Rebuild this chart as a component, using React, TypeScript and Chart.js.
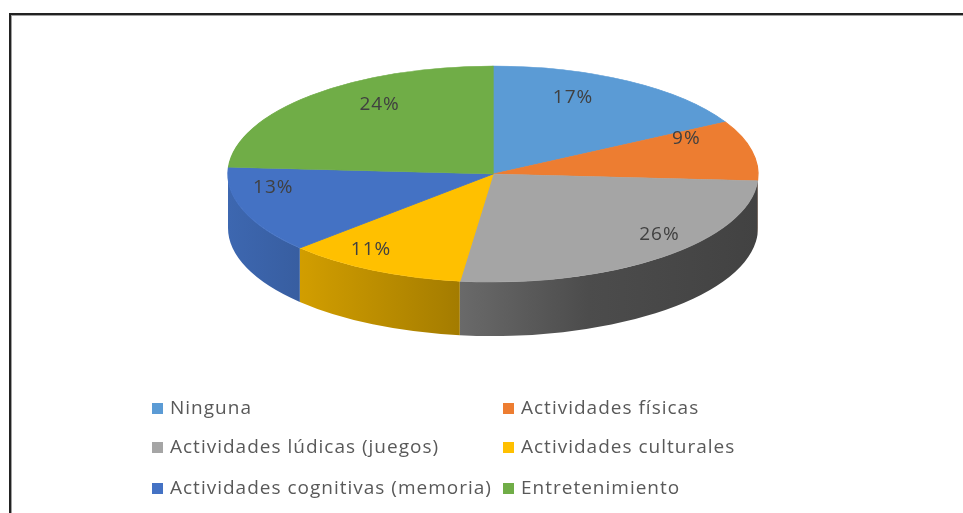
import React, { useEffect, useRef } from "react";
import { Chart, registerables } from "chart.js";
Chart.register(...registerables);

const categories = [
  "Ninguna",
  "Actividades físicas",
  "Actividades lúdicas (juegos)",
  "Actividades culturales",
  "Actividades cognitivas (memoria)",
  "Entretenimiento",
];
const values = [17, 9, 26, 11, 13, 24];
const colors = ["#5B9BD5", "#ED7D31", "#A5A5A5", "#FFC000", "#4472C4", "#70AD47"];

// geometry of the tilted pie (style constants)
const CX = 493;
const CY = 174;
const RX = 265;
const RY = 108;
const DEPTH = 54;

function shade(hex: string, f: number) {
  const n = parseInt(hex.slice(1), 16);
  const r = Math.round(((n >> 16) & 255) * f);
  const g = Math.round(((n >> 8) & 255) * f);
  const b = Math.round((n & 255) * f);
  return `rgb(${r},${g},${b})`;
}

const pie3d = {
  id: "pie3d",
  beforeDraw(chart: any) {
    const ctx = chart.ctx;
    ctx.save();
    ctx.fillStyle = "#ffffff";
    ctx.fillRect(0, 0, chart.width, chart.height);
    // frame
    ctx.fillStyle = "#222222";
    ctx.fillRect(9, 13, chart.width, 2);
    ctx.fillRect(9, 13, 2, chart.height);
    ctx.fillStyle = "#a0a0a0";
    ctx.fillRect(11, 15, chart.width, 1);
    ctx.fillRect(11, 15, 1, chart.height);
    ctx.restore();
  },
  beforeDatasetsDraw(chart: any) {
    const ctx = chart.ctx;
    const meta = chart.getDatasetMeta(0);
    const a0 = meta.data[0] as any;
    const px = a0.x, py = a0.y, R = a0.outerRadius;
    ctx.save();
    // side walls
    meta.data.forEach((arc: any, i: number) => {
      const s = Math.max(arc.startAngle, 0);
      const e = Math.min(arc.endAngle, Math.PI);
      if (e <= s) return;
      const grad = ctx.createLinearGradient(CX - RX, 0, CX + RX, 0);
      const c = colors[i];
      grad.addColorStop(0, shade(c, 0.9));
      grad.addColorStop(0.41, shade(c, 0.66));
      grad.addColorStop(0.68, shade(c, 0.46));
      grad.addColorStop(1, shade(c, 0.4));
      ctx.beginPath();
      ctx.ellipse(CX, CY, RX, RY, 0, s, e, false);
      ctx.ellipse(CX, CY + DEPTH, RX, RY, 0, e, s, true);
      ctx.closePath();
      ctx.fillStyle = grad;
      ctx.fill();
    });
    // top face transform
    ctx.translate(CX, CY);
    ctx.scale(RX / R, RY / R);
    ctx.translate(-px, -py);
  },
  afterDatasetsDraw(chart: any) {
    const ctx = chart.ctx;
    ctx.restore();
    const meta = chart.getDatasetMeta(0);
    const total = values.reduce((a, b) => a + b, 0);
    ctx.save();
    ctx.font = "19px 'Open Sans'";
    (ctx as any).letterSpacing = "1px";
    ctx.fillStyle = "#404040";
    ctx.textAlign = "center";
    ctx.textBaseline = "middle";
    meta.data.forEach((arc: any, i: number) => {
      const mid = (arc.startAngle + arc.endAngle) / 2;
      const c = Math.cos(mid), s = Math.sin(mid);
      const x = CX + RX * 0.8 * c * (1 + 0.3 * s);
      const y = CY - 18 + RY * 0.8 * s + 21 * s * s;
      ctx.fillText(Math.round((values[i] / total) * 100) + "%", x, y);
    });
    ctx.restore();
  },
  afterDraw(chart: any) {
    const ctx = chart.ctx;
    ctx.save();
    ctx.font = "19px 'Open Sans'";
    (ctx as any).letterSpacing = "1px";
    ctx.textBaseline = "middle";
    ctx.textAlign = "left";
    const colX = [152, 503];
    const rowY = [409, 448, 489];
    categories.forEach((name, i) => {
      const x = colX[i % 2];
      const y = rowY[Math.floor(i / 2)];
      ctx.fillStyle = colors[i];
      ctx.fillRect(x, y - 6, 11, 11);
      ctx.fillStyle = "#595959";
      ctx.fillText(name, x + 18, y);
    });
    ctx.restore();
  },
};

export default function App() {
  const ref = useRef<HTMLCanvasElement>(null);
  useEffect(() => {
    if (!ref.current) return;
    const chart = new Chart(ref.current, {
      type: "pie",
      data: {
        labels: categories,
        datasets: [
          {
            data: values,
            backgroundColor: colors,
            borderColor: colors,
            borderWidth: 1,
            clip: false as any,
          },
        ],
      },
      options: {
        responsive: false,
        devicePixelRatio: 1,
        animation: false,
        layout: { padding: { left: 280, right: 283, top: 56, bottom: 57 } },
        plugins: {
          legend: { display: false },
          tooltip: { enabled: false },
        },
      },
      plugins: [pie3d],
    });
    return () => chart.destroy();
  }, []);
  return (
    <div style={{ position: "absolute", left: 0, top: 0, width: 963, height: 513 }}>
      <canvas ref={ref} width={963} height={513} />
    </div>
  );
}
